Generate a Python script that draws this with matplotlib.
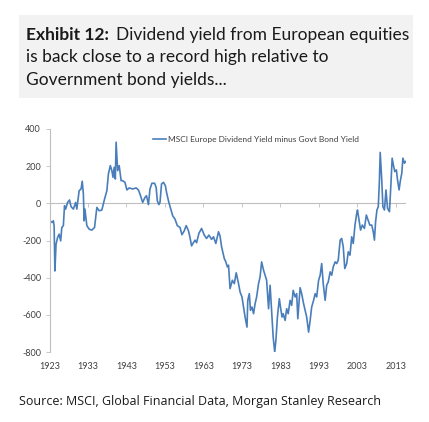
import matplotlib.pyplot as plt
import matplotlib.patches as patches

# values (basis points), approx. years
years = [1923.1, 1923.7, 1924.0, 1924.2, 1924.4, 1924.7, 1925.1, 1925.5, 1925.9, 1926.2,
         1926.6, 1926.9, 1927.2, 1927.7, 1928.2, 1928.6, 1929.2, 1929.8, 1930.1, 1930.7,
         1931.2, 1931.5, 1931.8, 1932.0, 1932.2, 1932.7, 1933.3, 1934.0, 1934.7, 1935.3,
         1935.9, 1936.6, 1937.3, 1937.9, 1938.3, 1938.8, 1939.2, 1939.5, 1939.8, 1940.1,
         1940.3, 1940.7, 1941.1,
         1941.6, 1942.0, 1942.6, 1943.1, 1943.7, 1944.6, 1945.5, 1946.1, 1946.5, 1947.2,
         1947.8, 1948.2, 1948.7, 1949.1, 1949.6, 1950.3, 1950.7, 1951.0, 1951.4, 1951.7,
         1952.1, 1952.6, 1953.1, 1953.4, 1954.0, 1954.5, 1955.0, 1955.6, 1956.2, 1956.9,
         1957.4, 1958.0, 1958.5, 1959.1, 1959.5, 1959.9, 1960.4,
         1960.8, 1961.2, 1961.8, 1962.5, 1963.2, 1963.8, 1964.4, 1965.1, 1965.6, 1966.2,
         1966.9, 1967.3, 1967.7, 1968.4, 1968.8, 1969.2, 1969.5, 1969.9, 1970.5, 1971.0,
         1971.5, 1972.1, 1972.5, 1973.0, 1973.4, 1973.8, 1974.3, 1974.5, 1974.9, 1975.2,
         1975.6, 1976.0, 1976.4, 1976.8, 1977.3, 1977.7, 1978.1, 1978.6, 1979.0, 1979.4,
         1979.9,
         1980.3, 1980.7, 1981.1, 1981.5, 1981.8, 1982.2, 1982.7, 1983.0, 1983.4, 1983.7,
         1984.2, 1984.6, 1985.0, 1985.5, 1985.9, 1986.3, 1986.8, 1987.2, 1987.5, 1988.1,
         1988.5, 1989.0, 1989.4, 1989.8, 1990.3, 1990.7, 1991.1, 1991.6, 1992.0, 1992.4,
         1992.9, 1993.3, 1993.7, 1994.1, 1994.6, 1995.0, 1995.4, 1995.9, 1996.3, 1996.7,
         1997.2, 1997.6, 1998.0, 1998.5, 1998.9, 1999.3, 1999.7,
         2000.2, 2000.6, 2001.05, 2001.5, 2001.9, 2002.35, 2002.8, 2003.0, 2003.4, 2003.8,
         2004.25, 2004.8, 2005.3, 2005.6, 2006.2, 2006.7, 2007.1, 2007.4, 2007.7, 2008.05,
         2008.4, 2008.7, 2008.9, 2009.3, 2009.6, 2010.0, 2010.4, 2010.8, 2011.3, 2011.7,
         2012.0, 2012.4, 2012.7, 2013.1, 2013.4, 2013.8, 2014.1, 2014.5, 2014.8, 2015.2,
         2015.5]
spread = [-94, -103, -94, -120, -364, -220, -184, -166, -202, -130,
          -120, -13, -31, 5, 18, -18, -31, 5, -31, 68,
          77, 119, 50, -94, -31, -120, -139, -144, -130, -22,
          -40, -36, 23, 68, 158, 203, 176, 140, 194, 131,
          329, 176, 203,
          122, 122, 113, 72, 83, 77, 83, 72, 50, 5,
          32, 41, -7, 77, 108, 108, 86, 14, -7, 5,
          104, 113, 95, 59, 5, -31, -67, -85, -120, -130,
          -169, -148, -120, -148, -184, -229, -211,
          -198, -212, -162, -135, -171, -189, -171, -194, -180, -216,
          -153, -176, -234, -297, -315, -342, -333, -459, -414, -432,
          -374, -432, -477, -504, -558, -612, -666, -522, -486, -576,
          -558, -594, -540, -504, -432, -396, -315, -360, -387, -414,
          -567,
          -441, -576, -720, -801, -738, -612, -513, -558, -612, -594,
          -630, -567, -594, -522, -549, -468, -504, -486, -621, -454,
          -486, -540, -576, -612, -693, -630, -558, -522, -486, -504,
          -414, -387, -324, -432, -522, -441, -423, -369, -387, -342,
          -315, -324, -306, -198, -189, -234, -351,
          -324, -261, -279, -180, -216, -117, -54, -36, -90, -144,
          -117, -135, -63, -81, -117, -117, -153, -198, -99, -36,
          -18, 126, 274, 126, -18, -36, 72, -27, -45, 108,
          243, 198, 171, 180, 126, 72, 117, 162, 243, 216,
          225]

xtick_years = [1923, 1933, 1943, 1953, 1963, 1973, 1983, 1993, 2003, 2013]
ytick_vals = [-800, -600, -400, -200, 0, 200, 400]

line_col = '#4a7ebb'
grey = '#bfbfbf'
txt = '#404040'
W, H = 429, 422

fig = plt.figure(figsize=(W / 100, H / 100), dpi=100)

# title box
fig.patches.append(patches.Rectangle((19 / W, 1 - 98 / H), 394 / W, 83 / H,
                                     transform=fig.transFigure, facecolor='#f2f2f2',
                                     edgecolor='none', zorder=0))
title_font = dict(fontsize=12.5, family='Lato', va='center', color='#1a1a1a')
title_lines = ['Dividend yield from European equities',
               'is back close to a record high relative to',
               'Government bond yields...']
head = fig.text(26 / W, 1 - 35 / H, 'Exhibit 12:', fontweight='bold', **title_font)
fig.canvas.draw()
bb = head.get_window_extent(fig.canvas.get_renderer())
fig.text((bb.x1 + 7) / W, 1 - 35 / H, title_lines[0], **title_font)
fig.text(26 / W, 1 - 57 / H, title_lines[1], **title_font)
fig.text(26 / W, 1 - 80 / H, title_lines[2], **title_font)

fig.text(19 / W, 1 - 402 / H, 'Source: MSCI, Global Financial Data, Morgan Stanley Research',
         fontsize=9, family='Open Sans', va='center', color='#1a1a1a')

ax = fig.add_axes([49.5 / W, 1 - 352 / H, 356.5 / W, 223 / H])
ax.plot(years, spread, color=line_col, lw=1.2,
        label='MSCI Europe Dividend Yield minus Govt Bond Yield')
ax.axhline(0, color=grey, lw=0.8, zorder=0)
ax.set_xlim(1923, 2015.6)
ax.set_ylim(-800, 400)

for s in ['top', 'right', 'bottom']:
    ax.spines[s].set_visible(False)
ax.spines['left'].set_color(grey)
ax.spines['left'].set_linewidth(0.8)

ax.set_yticks(ytick_vals)
ax.set_yticklabels([str(v) for v in ytick_vals])
ax.tick_params(axis='y', length=3, width=0.6, color=grey, labelsize=6.5, labelcolor=txt, pad=3)
ax.set_xticks(xtick_years)
ax.set_xticklabels([str(v) for v in xtick_years])
ax.tick_params(axis='x', length=0, labelsize=6.5, labelcolor=txt, pad=7)
for lab in ax.get_xticklabels() + ax.get_yticklabels():
    lab.set_family('Lato')

# tick marks on the zero line
zero_frac = (0 - (-800)) / 1200
sec = ax.secondary_xaxis(zero_frac)
sec.set_xticks(xtick_years)
sec.tick_params(axis='x', length=3, width=0.6, color=grey, labelbottom=False, labeltop=False,
                direction='in')
sec.spines['bottom'].set_visible(False)
sec.spines['top'].set_visible(False)

leg = ax.legend(loc='center', bbox_to_anchor=(0.579, 0.955), frameon=False,
                handlelength=1.6, handletextpad=0.2, prop={'family': 'Lato', 'size': 6})
for t in leg.get_texts():
    t.set_color(txt)

fig.savefig('out.png', dpi=100)
